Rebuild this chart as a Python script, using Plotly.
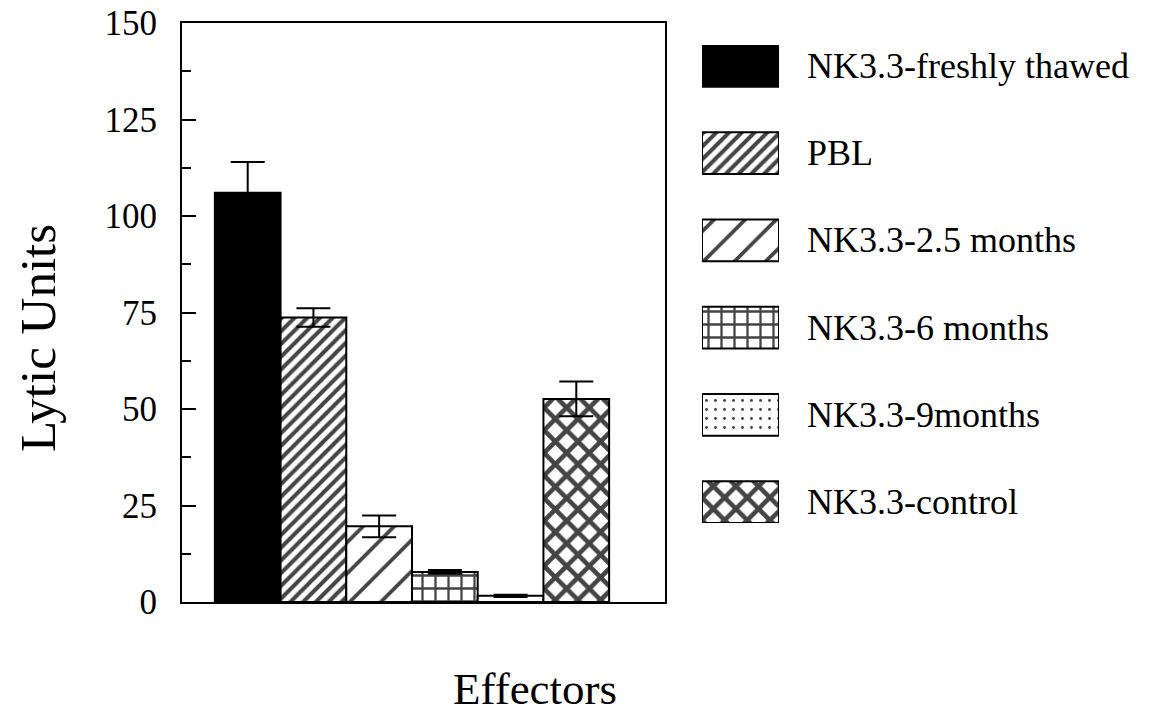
import plotly.graph_objects as go

effectors = ["NK3.3-freshly thawed", "PBL", "NK3.3-2.5 months",
             "NK3.3-6 months", "NK3.3-9months", "NK3.3-control"]
lytic_units = [106, 73.7, 19.6, 7.8, 1.6, 52.6]
errors = [8, 2.4, 2.8, 0.5, 0.3, 4.5]

y_ticks = [0, 25, 50, 75, 100, 125, 150]

# pattern styling per series
shapes = ["", "/", "/", "+", ".", "x"]
sizes = [8, 9, 22, 13, 9, 16]
solid = [0.3, 0.45, 0.17, 0.32, 0.08, 0.5]
colors = ["black", "white", "white", "white", "white", "white"]

FONT = "Liberation Serif"
OFF = 8  # page body margin
W, H = 1154 - 2 * OFF, 723 - 2 * OFF
L, R, T, B = 182 - OFF, 2, 23 - OFF, 723 - 602 - OFF
pw = W - L - R
ph = H - T - B

def px_x(p):
    return (p - OFF - L) / pw

def px_y(p):
    return (H - B - (p - OFF)) / ph

pattern = dict(shape=shapes, size=sizes, solidity=solid,
               fgcolor=["black"] * 6, fgopacity=1)

fig = go.Figure()
fig.add_trace(go.Bar(
    x=effectors, y=lytic_units, width=1,
    marker=dict(color=colors, line=dict(color="black", width=2), pattern=pattern),
    error_y=dict(type="data", array=errors, color="black", thickness=2, width=17),
    showlegend=False, xaxis="x", yaxis="y",
))
# legend swatches
fig.add_trace(go.Bar(
    y=effectors, x=[1] * len(effectors), base=0, orientation="h", width=0.48,
    marker=dict(color=colors, line=dict(color="black", width=2), pattern=pattern),
    showlegend=False, xaxis="x2", yaxis="y2",
))

fig.update_layout(
    width=W, height=H,
    margin=dict(l=L, r=R, t=T, b=B, autoexpand=False),
    paper_bgcolor="white", plot_bgcolor="white",
    font=dict(family=FONT, color="black"),
    xaxis=dict(domain=[0, px_x(665)], type="category", range=[-1.0, 6.35],
               showticklabels=False, ticks="", showgrid=False, zeroline=False,
               showline=True, mirror=True, linecolor="black", linewidth=2,
               automargin=False),
    yaxis=dict(range=[0, 150], tickvals=y_ticks, ticks="inside", ticklen=14,
               tickwidth=2, tickcolor="black", showgrid=False, zeroline=False,
               showline=True, mirror=True, linecolor="black", linewidth=2,
               tickfont=dict(size=35, family=FONT), ticklabelstandoff=16,
               automargin=False, ticklabeloverflow="allow",
               minor=dict(dtick=12.5, ticks="inside", ticklen=9, tickwidth=2,
                          tickcolor="black", showgrid=False)),
    xaxis2=dict(domain=[px_x(702), px_x(779)], range=[0, 1], visible=False,
                anchor="y2"),
    yaxis2=dict(domain=[px_y(523), px_y(45)], type="category",
                range=[5.24, -0.24], visible=False, anchor="x2"),
)

for name in effectors:
    fig.add_annotation(text=name, x=px_x(805), xref="paper", y=name, yref="y2",
                       xanchor="left", yanchor="middle", showarrow=False,
                       font=dict(size=36, family=FONT))

fig.add_annotation(text="Lytic Units", x=px_x(38), xref="paper",
                   y=px_y(338), yref="paper", textangle=-90, showarrow=False,
                   xanchor="center", yanchor="middle",
                   font=dict(size=51, family=FONT))
fig.add_annotation(text="Effectors", x=px_x(535), xref="paper",
                   y=px_y(689), yref="paper", showarrow=False,
                   xanchor="center", yanchor="middle",
                   font=dict(size=45, family=FONT))

fig.write_html("out.html")
